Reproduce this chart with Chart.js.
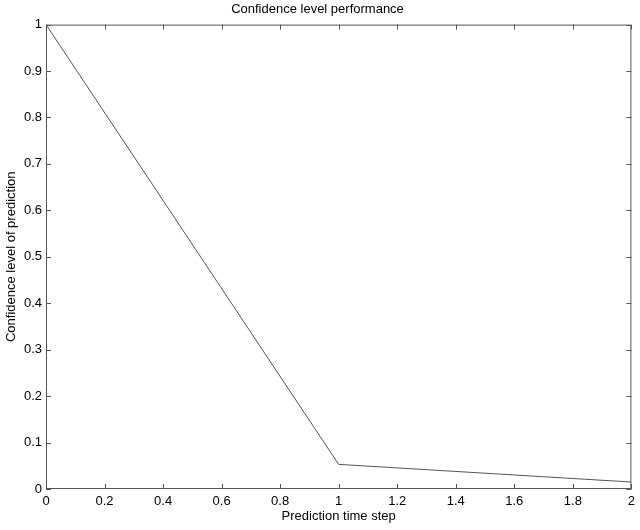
<!DOCTYPE html>
<html>
<head>
<meta charset="utf-8">
<script src="https://cdn.jsdelivr.net/npm/chart.js@4.4.1/dist/chart.umd.min.js"></script>
<style>
  html, body { margin: 0; padding: 0; background: #fff; }
  #wrap { width: 640px; height: 530px; }
</style>
</head>
<body>
<div id="wrap"><canvas id="chart"></canvas></div>
<script>
// Data
const timeSteps = [0, 1, 2];
const confidence = [1, 0.053, 0.015];

const xTicks = [0, 0.2, 0.4, 0.6, 0.8, 1, 1.2, 1.4, 1.6, 1.8, 2];
const yTicks = [0, 0.1, 0.2, 0.3, 0.4, 0.5, 0.6, 0.7, 0.8, 0.9, 1];

const axisColor = '#555';
const fontFamily = 'Helvetica, Arial, "Liberation Sans", sans-serif';

// MATLAB style box with ticks pointing inward
const boxTicks = {
  id: 'boxTicks',
  afterDraw(chart) {
    const { ctx, chartArea: a, scales } = chart;
    const len = 5;
    ctx.save();
    ctx.strokeStyle = axisColor;
    ctx.lineWidth = 1;
    ctx.beginPath();
    ctx.rect(a.left + 0.5, a.top + 0.5, a.right - a.left - 1, a.bottom - a.top - 1);
    xTicks.forEach(v => {
      const x = Math.round(scales.x.getPixelForValue(v)) + 0.5;
      ctx.moveTo(x, a.bottom);
      ctx.lineTo(x, a.bottom - len);
      ctx.moveTo(x, a.top);
      ctx.lineTo(x, a.top + len);
    });
    yTicks.forEach(v => {
      const y = Math.round(scales.y.getPixelForValue(v)) + 0.5;
      ctx.moveTo(a.left, y);
      ctx.lineTo(a.left + len, y);
      ctx.moveTo(a.right, y);
      ctx.lineTo(a.right - len, y);
    });
    ctx.stroke();
    ctx.restore();
  }
};

const fmt = v => String(+Number(v).toFixed(2));

new Chart(document.getElementById('chart'), {
  type: 'line',
  data: {
    datasets: [{
      data: timeSteps.map((t, i) => ({ x: t, y: confidence[i] })),
      borderColor: '#555',
      borderWidth: 1,
      pointRadius: 0,
      tension: 0,
      fill: false
    }]
  },
  options: {
    responsive: true,
    maintainAspectRatio: false,
    animation: false,
    layout: { padding: { top: 0, right: 5, bottom: 0, left: 0 } },
    plugins: {
      legend: { display: false },
      tooltip: { enabled: false },
      title: {
        display: true,
        text: 'Confidence level performance',
        color: '#000',
        font: { family: fontFamily, size: 13, weight: 'normal' },
        padding: { top: 2, bottom: 7 }
      }
    },
    scales: {
      x: {
        type: 'linear',
        min: 0,
        max: 2,
        afterBuildTicks: s => { s.ticks = xTicks.map(v => ({ value: v })); },
        afterFit: s => { s.height = 41; },
        grid: { display: false, drawTicks: false },
        border: { display: false },
        ticks: {
          color: '#000',
          padding: 5,
          maxRotation: 0,
          autoSkip: false,
          font: { family: fontFamily, size: 13 },
          callback: fmt
        },
        title: {
          display: true,
          text: 'Prediction time step',
          color: '#000',
          font: { family: fontFamily, size: 13 },
          padding: { top: 6, bottom: 6 }
        }
      },
      y: {
        type: 'linear',
        min: 0,
        max: 1,
        afterBuildTicks: s => { s.ticks = yTicks.map(v => ({ value: v })); },
        afterFit: s => { s.width = 46; },
        grid: { display: false, drawTicks: false },
        border: { display: false },
        ticks: {
          color: '#000',
          padding: 4,
          autoSkip: false,
          font: { family: fontFamily, size: 13 },
          callback: fmt
        },
        title: {
          display: true,
          text: 'Confidence level of prediction',
          color: '#000',
          font: { family: fontFamily, size: 13 },
          padding: { top: 4, bottom: 4 }
        }
      }
    }
  },
  plugins: [boxTicks]
});
</script>
</body>
</html>
